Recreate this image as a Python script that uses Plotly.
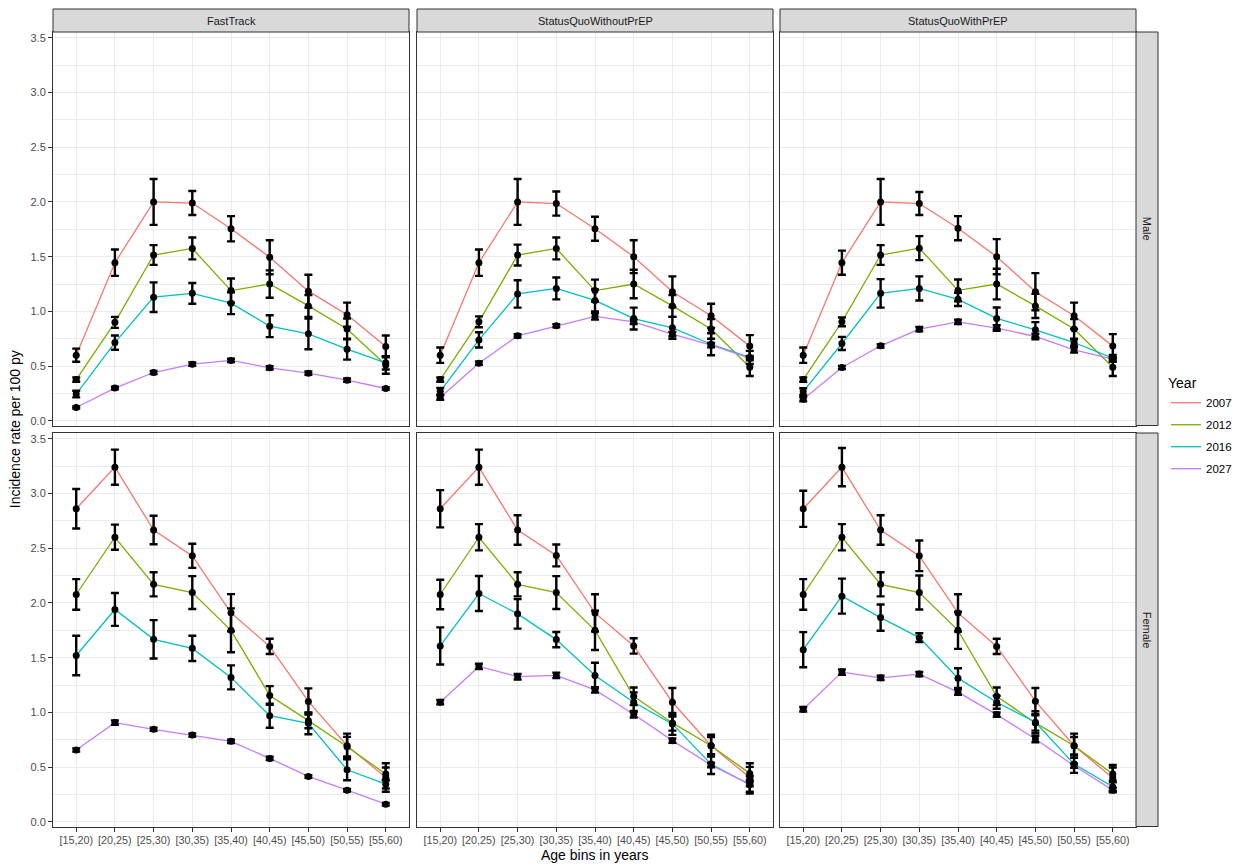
import plotly.graph_objects as go

# ---- data -------------------------------------------------------------
AGE_BINS = ["[15,20)", "[20,25)", "[25,30)", "[30,35)", "[35,40)",
            "[40,45)", "[45,50)", "[50,55)", "[55,60)"]
YEARS = ["2007", "2012", "2016", "2027"]
SCENARIOS = ["FastTrack", "StatusQuoWithoutPrEP", "StatusQuoWithPrEP"]
SEXES = ["Male", "Female"]

# FastTrack, Male
FT_M_2007 = [0.60, 1.445, 2.00, 1.99, 1.755, 1.495, 1.185, 0.97, 0.68]
FT_M_2012 = [0.378, 0.90, 1.515, 1.575, 1.19, 1.25, 1.05, 0.84, 0.51]
FT_M_2016 = [0.245, 0.715, 1.13, 1.165, 1.075, 0.865, 0.795, 0.655, 0.53]
FT_M_2027 = [0.122, 0.30, 0.442, 0.518, 0.552, 0.485, 0.436, 0.372, 0.296]
FT_M_2007_ERR = [0.06, 0.12, 0.21, 0.11, 0.115, 0.155, 0.15, 0.11, 0.10]
FT_M_2012_ERR = [0.02, 0.05, 0.09, 0.10, 0.11, 0.125, 0.10, 0.095, 0.08]
FT_M_2016_ERR = [0.03, 0.065, 0.135, 0.095, 0.10, 0.10, 0.14, 0.095, 0.06]
FT_M_2027_ERR = [0.01, 0.012, 0.015, 0.015, 0.015, 0.015, 0.015, 0.015, 0.012]

# StatusQuoWithoutPrEP, Male
SQN_M_2007 = [0.60, 1.445, 2.00, 1.985, 1.755, 1.50, 1.18, 0.96, 0.683]
SQN_M_2012 = [0.378, 0.905, 1.515, 1.575, 1.19, 1.25, 1.05, 0.84, 0.49]
SQN_M_2016 = [0.27, 0.74, 1.16, 1.21, 1.10, 0.935, 0.85, 0.70, 0.58]
SQN_M_2027 = [0.213, 0.527, 0.777, 0.869, 0.955, 0.905, 0.793, 0.692, 0.573]
SQN_M_2007_ERR = [0.07, 0.12, 0.21, 0.11, 0.11, 0.15, 0.14, 0.11, 0.10]
SQN_M_2012_ERR = [0.02, 0.05, 0.095, 0.10, 0.10, 0.13, 0.10, 0.09, 0.08]
SQN_M_2016_ERR = [0.03, 0.07, 0.125, 0.10, 0.10, 0.10, 0.10, 0.10, 0.06]
SQN_M_2027_ERR = [0.02, 0.015, 0.015, 0.015, 0.03, 0.02, 0.02, 0.02, 0.02]

# StatusQuoWithPrEP, Male
SQP_M_2007 = [0.60, 1.445, 2.00, 1.985, 1.76, 1.50, 1.18, 0.96, 0.683]
SQP_M_2012 = [0.378, 0.905, 1.515, 1.578, 1.192, 1.25, 1.05, 0.84, 0.49]
SQP_M_2016 = [0.268, 0.707, 1.165, 1.21, 1.11, 0.936, 0.832, 0.716, 0.573]
SQP_M_2027 = [0.198, 0.488, 0.686, 0.838, 0.905, 0.848, 0.771, 0.649, 0.564]
SQP_M_2007_ERR = [0.07, 0.11, 0.21, 0.105, 0.11, 0.16, 0.17, 0.12, 0.11]
SQP_M_2012_ERR = [0.02, 0.04, 0.09, 0.11, 0.10, 0.14, 0.11, 0.09, 0.08]
SQP_M_2016_ERR = [0.03, 0.06, 0.13, 0.11, 0.06, 0.10, 0.07, 0.03, 0.03]
SQP_M_2027_ERR = [0.02, 0.015, 0.015, 0.02, 0.02, 0.025, 0.025, 0.025, 0.02]

# FastTrack, Female
FT_F_2007 = [2.86, 3.24, 2.666, 2.43, 1.91, 1.603, 1.10, 0.696, 0.406]
FT_F_2012 = [2.077, 2.60, 2.17, 2.095, 1.75, 1.155, 0.925, 0.687, 0.437]
FT_F_2016 = [1.52, 1.94, 1.668, 1.585, 1.32, 0.97, 0.90, 0.476, 0.345]
FT_F_2027 = [0.657, 0.907, 0.846, 0.794, 0.736, 0.58, 0.415, 0.29, 0.162]
FT_F_2007_ERR = [0.18, 0.16, 0.13, 0.11, 0.17, 0.07, 0.12, 0.11, 0.13]
FT_F_2012_ERR = [0.14, 0.115, 0.11, 0.15, 0.20, 0.085, 0.07, 0.09, 0.06]
FT_F_2016_ERR = [0.18, 0.15, 0.175, 0.115, 0.11, 0.11, 0.10, 0.095, 0.04]
FT_F_2027_ERR = [0.015, 0.02, 0.015, 0.015, 0.015, 0.015, 0.012, 0.012, 0.012]

# StatusQuoWithoutPrEP, Female
SQN_F_2007 = [2.86, 3.24, 2.666, 2.434, 1.909, 1.607, 1.093, 0.696, 0.406]
SQN_F_2012 = [2.077, 2.60, 2.17, 2.095, 1.75, 1.148, 0.904, 0.696, 0.443]
SQN_F_2016 = [1.607, 2.086, 1.90, 1.665, 1.338, 1.093, 0.895, 0.528, 0.339]
SQN_F_2027 = [1.093, 1.42, 1.326, 1.338, 1.206, 0.983, 0.742, 0.519, 0.345]
SQN_F_2007_ERR = [0.17, 0.16, 0.135, 0.10, 0.17, 0.07, 0.13, 0.10, 0.13]
SQN_F_2012_ERR = [0.135, 0.12, 0.11, 0.15, 0.18, 0.08, 0.07, 0.08, 0.06]
SQN_F_2016_ERR = [0.17, 0.16, 0.135, 0.07, 0.115, 0.09, 0.10, 0.09, 0.08]
SQN_F_2027_ERR = [0.02, 0.025, 0.025, 0.025, 0.025, 0.03, 0.02, 0.02, 0.02]

# StatusQuoWithPrEP, Female
SQP_F_2007 = [2.86, 3.24, 2.666, 2.43, 1.909, 1.603, 1.103, 0.696, 0.40]
SQP_F_2012 = [2.077, 2.60, 2.17, 2.095, 1.75, 1.148, 0.904, 0.696, 0.437]
SQP_F_2016 = [1.573, 2.062, 1.866, 1.683, 1.313, 1.093, 0.91, 0.528, 0.321]
SQP_F_2027 = [1.029, 1.368, 1.316, 1.35, 1.185, 0.98, 0.757, 0.513, 0.29]
SQP_F_2007_ERR = [0.165, 0.175, 0.135, 0.14, 0.17, 0.07, 0.12, 0.11, 0.12]
SQP_F_2012_ERR = [0.14, 0.12, 0.11, 0.155, 0.17, 0.08, 0.07, 0.08, 0.06]
SQP_F_2016_ERR = [0.16, 0.16, 0.12, 0.04, 0.09, 0.06, 0.10, 0.08, 0.04]
SQP_F_2027_ERR = [0.02, 0.025, 0.02, 0.02, 0.025, 0.02, 0.03, 0.02, 0.02]

PANELS = {
    ("FastTrack", "Male"): ([FT_M_2007, FT_M_2012, FT_M_2016, FT_M_2027],
                            [FT_M_2007_ERR, FT_M_2012_ERR, FT_M_2016_ERR, FT_M_2027_ERR]),
    ("StatusQuoWithoutPrEP", "Male"): ([SQN_M_2007, SQN_M_2012, SQN_M_2016, SQN_M_2027],
                                       [SQN_M_2007_ERR, SQN_M_2012_ERR, SQN_M_2016_ERR, SQN_M_2027_ERR]),
    ("StatusQuoWithPrEP", "Male"): ([SQP_M_2007, SQP_M_2012, SQP_M_2016, SQP_M_2027],
                                    [SQP_M_2007_ERR, SQP_M_2012_ERR, SQP_M_2016_ERR, SQP_M_2027_ERR]),
    ("FastTrack", "Female"): ([FT_F_2007, FT_F_2012, FT_F_2016, FT_F_2027],
                              [FT_F_2007_ERR, FT_F_2012_ERR, FT_F_2016_ERR, FT_F_2027_ERR]),
    ("StatusQuoWithoutPrEP", "Female"): ([SQN_F_2007, SQN_F_2012, SQN_F_2016, SQN_F_2027],
                                         [SQN_F_2007_ERR, SQN_F_2012_ERR, SQN_F_2016_ERR, SQN_F_2027_ERR]),
    ("StatusQuoWithPrEP", "Female"): ([SQP_F_2007, SQP_F_2012, SQP_F_2016, SQP_F_2027],
                                      [SQP_F_2007_ERR, SQP_F_2012_ERR, SQP_F_2016_ERR, SQP_F_2027_ERR]),
}

# ---- styling ----------------------------------------------------------
YEAR_COLORS = ["#F8766D", "#7CAE00", "#00BFC4", "#C77CFF"]
FONT = "Liberation Sans, Arial, Helvetica, sans-serif"
W, H = 1240, 865
COL_PX = [(53, 409), (417, 773), (780, 1136)]
ROW_PX = [(32, 425.5), (433, 826.5)]
STRIP_TOP = (9, 32)
STRIP_RIGHT = (1136, 1158)
BORDER = "#333333"
GRID = "#EBEBEB"


def fx(p):
    return p / W


def fy(p):
    return 1 - p / H


fig = go.Figure()
layout = dict(
    width=W, height=H,
    margin=dict(l=0, r=0, t=0, b=0),
    paper_bgcolor="white", plot_bgcolor="white",
    font=dict(family=FONT, color="#4D4D4D", size=11),
)

panel_ids = {}
for r, sex in enumerate(SEXES):
    for c, scen in enumerate(SCENARIOS):
        k = r * 3 + c + 1
        panel_ids[(scen, sex)] = k
        sfx = "" if k == 1 else str(k)
        layout["xaxis" + sfx] = dict(
            domain=[fx(COL_PX[c][0]), fx(COL_PX[c][1])],
            anchor="y" + sfx,
            type="category",
            categoryorder="array", categoryarray=AGE_BINS,
            range=[-0.6, len(AGE_BINS) - 0.4],
            showgrid=True, gridcolor=GRID, gridwidth=1.1,
            showline=True, linecolor=BORDER, linewidth=1, mirror=True,
            ticks="outside" if r == 1 else "", ticklen=4, tickcolor=BORDER,
            showticklabels=(r == 1),
            tickfont=dict(size=10.8, color="#4D4D4D", family=FONT),
            zeroline=False, fixedrange=True,
        )
        layout["yaxis" + sfx] = dict(
            domain=[fy(ROW_PX[r][1]), fy(ROW_PX[r][0])],
            anchor="x" + sfx,
            range=[-0.042, 3.552],
            tick0=0, dtick=0.5, tickformat=".1f",
            showgrid=True, gridcolor=GRID, gridwidth=1.1,
            minor=dict(dtick=0.25, tick0=0, showgrid=True,
                       gridcolor=GRID, gridwidth=0.6),
            showline=True, linecolor=BORDER, linewidth=1, mirror=True,
            ticks="outside" if c == 0 else "", ticklen=4, tickcolor=BORDER,
            showticklabels=(c == 0),
            tickfont=dict(size=11, color="#4D4D4D", family=FONT),
            zeroline=False, fixedrange=True,
        )

# coloured lines first, then error bars and points on top
for (scen, sex), (series, errs) in PANELS.items():
    k = panel_ids[(scen, sex)]
    sfx = "" if k == 1 else str(k)
    for i, year in enumerate(YEARS):
        fig.add_trace(go.Scatter(
            x=AGE_BINS, y=series[i], mode="lines",
            line=dict(color=YEAR_COLORS[i], width=1.3),
            name=year, legendgroup=year, showlegend=(k == 1),
            xaxis="x" + sfx, yaxis="y" + sfx, hoverinfo="skip",
        ))
for (scen, sex), (series, errs) in PANELS.items():
    k = panel_ids[(scen, sex)]
    sfx = "" if k == 1 else str(k)
    for i, year in enumerate(YEARS):
        fig.add_trace(go.Scatter(
            x=AGE_BINS, y=series[i], mode="markers",
            marker=dict(color="black", size=7),
            error_y=dict(type="data", array=errs[i], visible=True,
                         color="black", thickness=2.4, width=4),
            name=year, legendgroup=year, showlegend=False,
            xaxis="x" + sfx, yaxis="y" + sfx,
        ))

shapes, annotations = [], []
# facet strips along the top
for c, scen in enumerate(SCENARIOS):
    x0, x1 = fx(COL_PX[c][0]), fx(COL_PX[c][1])
    shapes.append(dict(type="rect", xref="paper", yref="paper",
                       x0=x0, x1=x1, y0=fy(STRIP_TOP[1]), y1=fy(STRIP_TOP[0]),
                       fillcolor="#D9D9D9", line=dict(color=BORDER, width=1)))
    annotations.append(dict(text=scen, xref="paper", yref="paper",
                            x=(x0 + x1) / 2, y=fy(sum(STRIP_TOP) / 2),
                            xanchor="center", yanchor="middle",
                            showarrow=False, font=dict(size=11, color="#1A1A1A", family=FONT)))
# facet strips on the right
for r, sex in enumerate(SEXES):
    y0, y1 = fy(ROW_PX[r][1]), fy(ROW_PX[r][0])
    shapes.append(dict(type="rect", xref="paper", yref="paper",
                       x0=fx(STRIP_RIGHT[0]), x1=fx(STRIP_RIGHT[1]), y0=y0, y1=y1,
                       fillcolor="#D9D9D9", line=dict(color=BORDER, width=1)))
    annotations.append(dict(text=sex, xref="paper", yref="paper",
                            x=fx(sum(STRIP_RIGHT) / 2), y=(y0 + y1) / 2, textangle=90,
                            xanchor="center", yanchor="middle",
                            showarrow=False, font=dict(size=11, color="#1A1A1A", family=FONT)))

# axis titles
annotations.append(dict(text="Age bins in years", xref="paper", yref="paper",
                        x=fx((COL_PX[0][0] + COL_PX[2][1]) / 2), y=fy(855),
                        xanchor="center", yanchor="middle",
                        showarrow=False, font=dict(size=14, color="black", family=FONT)))
annotations.append(dict(text="Incidence rate per 100 py", xref="paper", yref="paper",
                        x=fx(15), y=fy((ROW_PX[0][0] + ROW_PX[1][1]) / 2), textangle=-90,
                        xanchor="center", yanchor="middle",
                        showarrow=False, font=dict(size=14, color="black", family=FONT)))

layout["shapes"] = shapes
layout["annotations"] = annotations
layout["legend"] = dict(
    title=dict(text="Year", font=dict(size=14, color="black", family=FONT)),
    x=fx(1166), y=fy(370), xanchor="left", yanchor="top",
    font=dict(size=11.5, color="black", family=FONT),
    bgcolor="rgba(0,0,0,0)", tracegroupgap=3, itemwidth=30,
)
layout["showlegend"] = True
fig.update_layout(**layout)

fig.write_html("out.html")
